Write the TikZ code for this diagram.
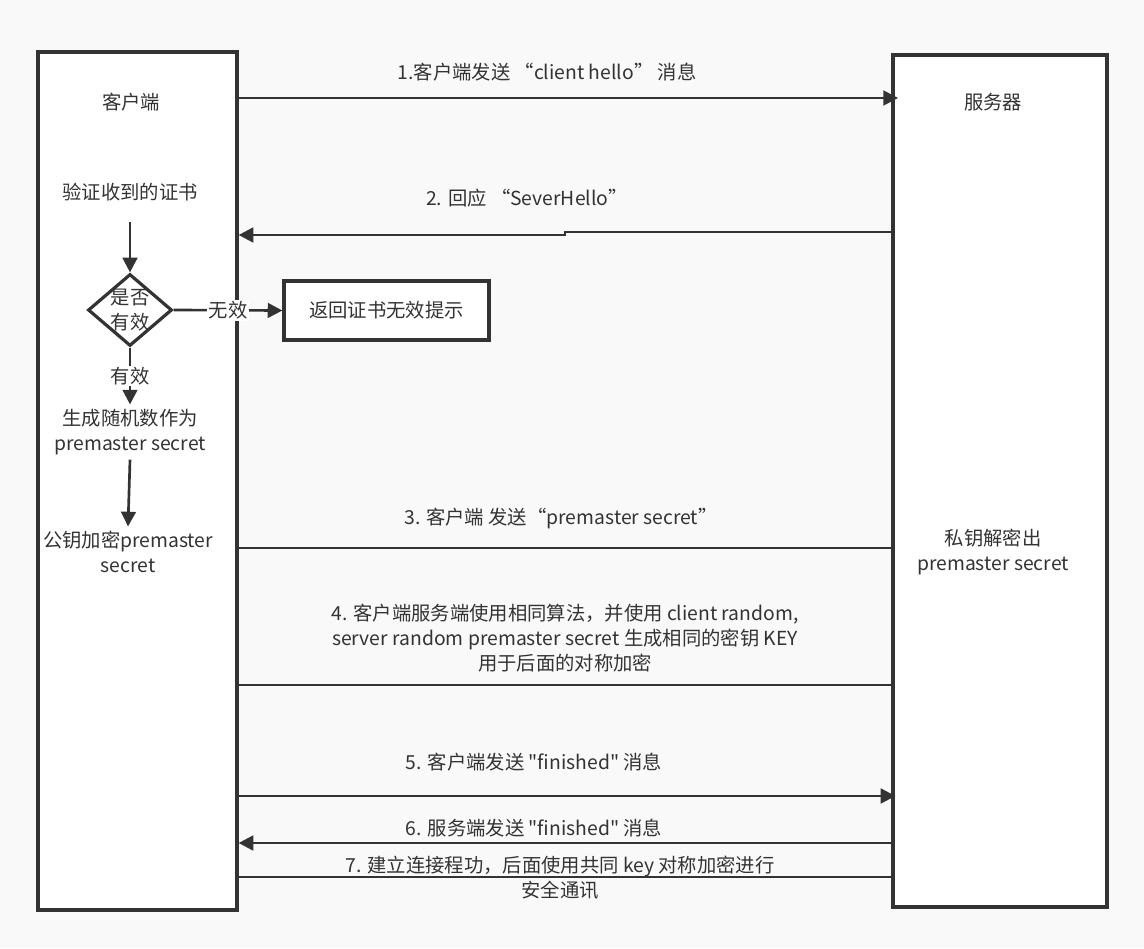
\documentclass[tikz,border=0pt]{standalone}
\usepackage{fontspec}
\setmainfont{Noto Sans CJK SC}[Ligatures=TeXOff]
\usepackage{tikz}
\usetikzlibrary{arrows.meta, positioning, shapes.geometric, calc}
\definecolor{linegray}{HTML}{333333}
\definecolor{bggray}{HTML}{F9F9F9}

\begin{document}
\begin{tikzpicture}[
  x=0.75pt, y=-0.75pt,
  font=\fontsize{14.5}{18.75}\selectfont,
  every node/.style={text=linegray},
  lane/.style={draw=linegray, line width=2.4pt, fill=white},
  decision/.style={draw=linegray, diamond, line width=2.4pt, fill=white, inner sep=0pt, minimum width=63pt, minimum height=54pt},
  notebox/.style={draw=linegray, line width=2.4pt, fill=white, minimum width=153.75pt, minimum height=44.25pt},
  arr/.style={-{Triangle[length=11pt, width=11pt]}, line width=2pt, draw=linegray},
  line/.style={line width=2pt, draw=linegray}
]
\fill[bggray] (0,0) rectangle (1144,948);

% the two sides
\node[lane, minimum width=149.25pt, minimum height=643.5pt] (client) at (137.5,481) {};
\node[lane, minimum width=160.5pt, minimum height=639pt] (server) at (1000,481) {};

\node (clienttitle) at (131,102) {客户端};
\node (servertitle) at (993,102) {服务器};

% client side checks
\node (verify) at (130,192) {验证收到的证书};
\node[decision, label={[align=center, text=linegray]center:是否\\有效}] (valid) at (130,310) {};
\node[notebox] (reject) at (386.5,310.5) {返回证书无效提示};
\node[align=center] (genkey) at (130,432) {生成随机数作为\\premaster secret};
\node[align=center] (encrypt) at (128,552) {公钥加密premaster\\secret};
\node[align=center] (decrypt) at (993,552) {私钥解密出\\premaster secret};

\draw[arr, shorten <=12pt] (verify) -- (valid.north);
\draw[arr] (valid.east) -- node[fill=white, inner sep=1pt] {无效} (reject.west);
\draw[arr] (valid.south) -- node[fill=white, inner sep=1pt] {有效} (genkey.north);
\draw[arr] (genkey.south) -- (encrypt.north);

% message rows
\coordinate (r1) at (0,98);
\coordinate (r2a) at (565,232);
\coordinate (r2b) at (565,235);
\coordinate (r3) at (0,548);
\coordinate (r4) at (0,685);
\coordinate (r5) at (0,796);
\coordinate (r6) at (0,843);
\coordinate (r7) at (0,877);

\node (msg1) at (547,72) {1.客户端发送 “client hello” 消息};
\node (msg2) at (527,198) {2. 回应 “SeverHello”};
\node (msg3) at (561,519) {3. 客户端 发送“premaster secret”};
\node[align=center] (msg4) at (565,638) {4. 客户端服务端使用相同算法，并使用 client random,\\server random premaster secret 生成相同的密钥 KEY\\用于后面的对称加密};
\node (msg5) at (534,762) {5. 客户端发送 "finished" 消息};
\node (msg6) at (534,828) {6. 服务端发送 "finished" 消息};
\node[align=center] (msg7) at (560,878) {7. 建立连接程功，后面使用共同 key 对称加密进行\\安全通讯};

\draw[arr, shorten >=-5pt] (client.east |- r1) -- (server.west |- r1);
\draw[arr] (server.west |- r2a) -- (r2a) -- (r2b) -- (client.east |- r2b);
\draw[line] (client.east |- r3) -- (server.west |- r3);
\draw[line] (client.east |- r4) -- (server.west |- r4);
\draw[arr, shorten >=-3pt] (client.east |- r5) -- (server.west |- r5);
\draw[arr] (server.west |- r6) -- (client.east |- r6);
\draw[line] (client.east |- r7) -- (server.west |- r7);
\end{tikzpicture}
\end{document}
